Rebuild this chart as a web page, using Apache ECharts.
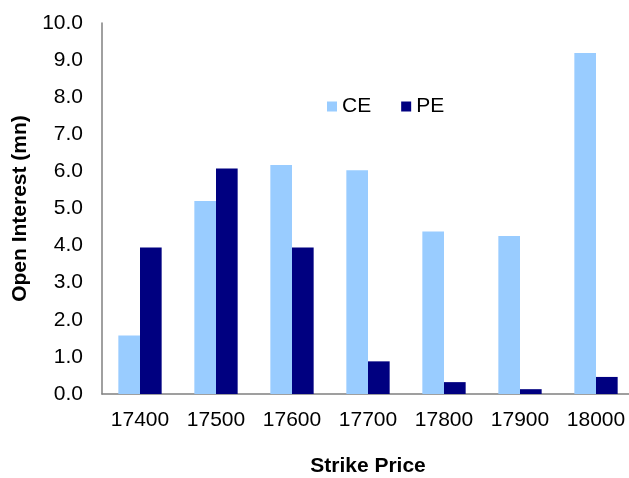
<!DOCTYPE html>
<html>
<head>
<meta charset="utf-8">
<script src="https://cdn.jsdelivr.net/npm/echarts@6/dist/echarts.min.js"></script>
<style>html,body{margin:0;padding:0;background:#fff;}#c{width:629px;height:478px;}</style>
</head>
<body>
<div id="c"></div>
<script>
const categories = ['17400','17500','17600','17700','17800','17900','18000'];
const ceValues = [1.58, 5.2, 6.17, 6.03, 4.38, 4.26, 9.19];
const peValues = [3.95, 6.08, 3.95, 0.88, 0.32, 0.13, 0.46];

const chart = echarts.init(document.getElementById('c'));
const font = 'Liberation Sans, Arial, sans-serif';
chart.setOption({
  animation: false,
  textStyle: {fontFamily: font},
  grid: {left: 102, right: -5, top: 23, bottom: 84, containLabel: false, outerBoundsMode: 'none'},
  legend: {
    left: 322, top: 91, itemWidth: 10, itemHeight: 10, itemGap: 30, itemStyle: {borderWidth: 0},
    icon: 'rect',
    textStyle: {fontSize: 21, color: '#000', fontFamily: font},
    data: ['CE','PE']
  },
  xAxis: {
    type: 'category', data: categories,
    axisLine: {lineStyle: {color: '#808080', width: 1.5}},
    axisTick: {show: false},
    axisLabel: {fontSize: 21, color: '#000', margin: 16, fontFamily: font},
    name: 'Strike Price', nameLocation: 'middle', nameGap: 62,
    nameTextStyle: {fontSize: 21, fontWeight: 'bold', color: '#000', fontFamily: font}
  },
  yAxis: {
    type: 'value', min: 0, max: 10, interval: 1,
    splitLine: {show: false},
    axisLine: {show: true, lineStyle: {color: '#808080', width: 1.5}},
    axisTick: {show: false},
    axisLabel: {fontSize: 21, color: '#000', margin: 19, fontFamily: font, formatter: v => v.toFixed(1)},
    name: 'Open Interest (mn)', nameLocation: 'middle', nameGap: 71,
    nameTextStyle: {fontSize: 21, fontWeight: 'bold', color: '#000', fontFamily: font}
  },
  series: [
    {name: 'CE', type: 'bar', data: ceValues, barWidth: '28.5%', barGap: '0%', itemStyle: {color: '#99CCFF'}},
    {name: 'PE', type: 'bar', data: peValues, barWidth: '28.5%', barGap: '0%', itemStyle: {color: '#000080'}}
  ]
});
</script>
</body>
</html>
